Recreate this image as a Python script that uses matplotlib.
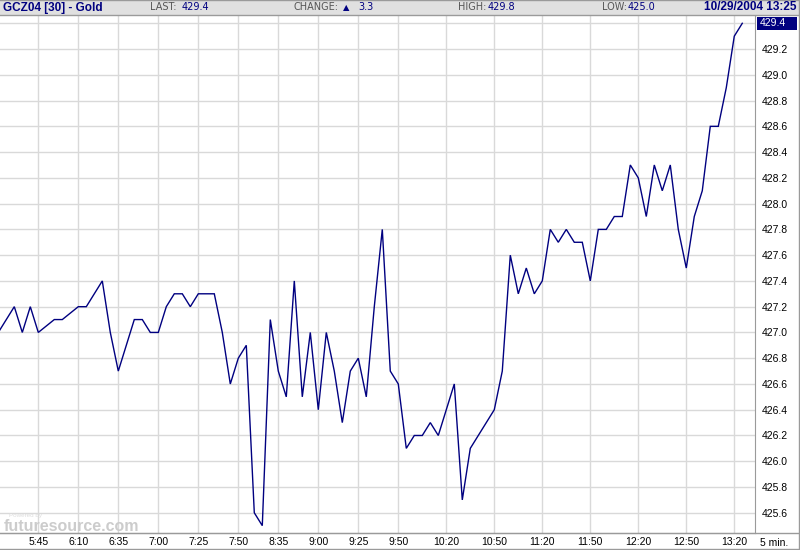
import numpy as np
import matplotlib
matplotlib.use("Agg")
import matplotlib.pyplot as plt
from matplotlib.patches import Rectangle
from matplotlib.lines import Line2D

# ---- data (5-minute bars, index-based x axis) ----
bar_index = list(range(-1, 93))
prices = [427.0, 427.1, 427.2, 427.0, 427.2, 427.0, 427.05, 427.1, 427.1, 427.15,
          427.2, 427.2, 427.3, 427.4, 427.0, 426.7, 426.9, 427.1, 427.1, 427.0,
          427.0, 427.2, 427.3, 427.3, 427.2, 427.3, 427.3, 427.3, 427.0, 426.6,
          426.8, 426.9, 425.6, 425.5, 427.1, 426.7, 426.5, 427.4, 426.5, 427.0,
          426.4, 427.0, 426.7, 426.3, 426.7, 426.8, 426.5, 427.2, 427.8, 426.7,
          426.6, 426.1, 426.2, 426.2, 426.3, 426.2, 426.4, 426.6, 425.7, 426.1,
          426.2, 426.3, 426.4, 426.7, 427.6, 427.3, 427.5, 427.3, 427.4, 427.8,
          427.7, 427.8, 427.7, 427.7, 427.4, 427.8, 427.8, 427.9, 427.9, 428.3,
          428.2, 427.9, 428.3, 428.1, 428.3, 427.8, 427.5, 427.9, 428.1, 428.6,
          428.6, 428.9, 429.3, 429.4]
tick_index = [4, 9, 14, 19, 24, 29, 34, 39, 44, 49, 55, 61, 67, 73, 79, 85, 91]
tick_labels = ["5:45", "6:10", "6:35", "7:00", "7:25", "7:50", "8:35", "9:00",
               "9:25", "9:50", "10:20", "10:50", "11:20", "11:50", "12:20",
               "12:50", "13:20"]
price_ticks = [425.6, 425.8, 426.0, 426.2, 426.4, 426.6, 426.8, 427.0, 427.2,
               427.4, 427.6, 427.8, 428.0, 428.2, 428.4, 428.6, 428.8, 429.0,
               429.2]
last_price = 429.4
symbol = "GCZ04 [30] - Gold"
last_txt, change_txt, high_txt, low_txt = "429.4", "3.3", "429.8", "425.0"
stamp = "10/29/2004 13:25"
interval = "5 min."

W, H = 800, 550
FONT = "Liberation Sans"
HFONT = "DejaVu Sans"
NAVY = "#000080"
GRID = "#d9d9d9"
EDGE = "#9a9a9a"

def fx(px):
    return px / W

def fy(py):
    return 1 - py / H

fig = plt.figure(figsize=(W / 100, H / 100), dpi=100)
fig.patch.set_facecolor("white")

# plot area: x 0..755, y 15..533
ax = fig.add_axes([0, fy(533), fx(755), (533 - 15) / H])
ax.plot(bar_index, prices, color=NAVY, lw=1.0, zorder=3, solid_joinstyle="miter")
ax.set_xlim(-0.7875, 93.59)
ax.set_ylim(425.443, 429.4644)
ax.set_xticks(tick_index)
ax.set_xticklabels(tick_labels)
ax.set_yticks(price_ticks + [last_price])
ax.set_yticklabels([f"{v:.1f}" for v in price_ticks] + [""])
ax.yaxis.tick_right()
ax.tick_params(axis="both", length=0, labelsize=7.5, colors="black")
ax.tick_params(axis="y", pad=5)
ax.tick_params(axis="x", pad=3)
for lab in ax.get_xticklabels() + ax.get_yticklabels():
    lab.set_fontfamily(FONT)
ax.grid(True, color=GRID, lw=1.0, zorder=0)
ax.set_axisbelow(True)
for s in ["left", "top"]:
    ax.spines[s].set_visible(False)
ax.spines["right"].set_color(EDGE)
ax.spines["bottom"].set_color(EDGE)

# watermark
ax.text(0.012, 0.03, "Powered by", transform=ax.transAxes, fontsize=4.5,
        color="#dcdcdc", family=FONT, zorder=1)
ax.text(0.005, -0.002, "futuresource.com", transform=ax.transAxes, fontsize=11.5,
        fontweight="bold", color="#cccccc", family=FONT, zorder=1, va="bottom")

# header bar
fig.patches.append(Rectangle((0, fy(14.5)), 1, 14.5 / H, transform=fig.transFigure,
                             facecolor="#e0e0e0", edgecolor="none", zorder=0))
fig.lines.append(Line2D([0, fx(798)], [fy(14.5), fy(14.5)], transform=fig.transFigure,
                        color=EDGE, lw=1))
hy = fy(7.5)
fig.text(fx(3), hy, symbol, fontsize=8.5, fontweight="bold", color=NAVY,
         family=FONT, va="center")
LAB = dict(fontsize=7, color="#555555", family=HFONT, va="center")
VAL = dict(fontsize=7, color=NAVY, family=HFONT, va="center")
fig.text(fx(150), hy, "LAST:", **LAB)
fig.text(fx(182), hy, last_txt, **VAL)
fig.text(fx(294), hy, "CHANGE:", **LAB)
fig.text(fx(343), hy, "\u25b2", fontsize=6, color=NAVY, family="DejaVu Sans", va="center")
fig.text(fx(358), hy, change_txt, **VAL)
fig.text(fx(458), hy, "HIGH:", **LAB)
fig.text(fx(488), hy, high_txt, **VAL)
fig.text(fx(602), hy, "LOW:", **LAB)
fig.text(fx(628), hy, low_txt, **VAL)
fig.text(fx(796), hy, stamp, fontsize=8.5, fontweight="bold", color=NAVY,
         family=FONT, va="center", ha="right")

# last price marker on right axis
fig.patches.append(Rectangle((fx(757), fy(30)), fx(40), 13 / H, transform=fig.transFigure,
                             facecolor=NAVY, edgecolor="none", zorder=2))
fig.text(fx(760), fy(23.5), last_txt, fontsize=7.5, color="white", family=FONT,
         va="center", zorder=3)

# interval label
fig.text(fx(760), fy(543), interval, fontsize=7.5, color="black", family=FONT, va="center")

# outer border
fig.lines.append(Line2D([fx(0), fx(798.5), fx(798.5), fx(0)],
                        [fy(0), fy(0), fy(549), fy(549)], transform=fig.transFigure,
                        color=EDGE, lw=1))
fig.lines.append(Line2D([fx(0), fx(798.5)], [fy(533), fy(533)], transform=fig.transFigure,
                        color=EDGE, lw=1))

fig.savefig("out.png", dpi=100)
